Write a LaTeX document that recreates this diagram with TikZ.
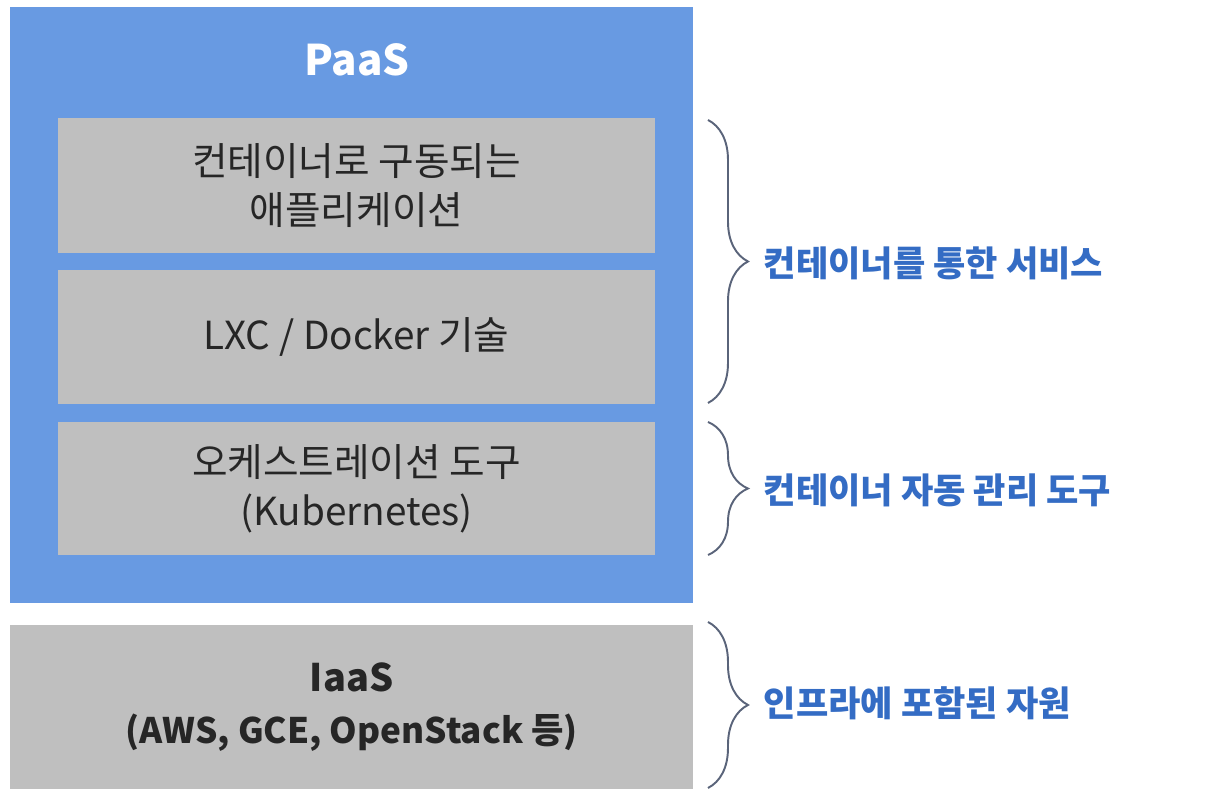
\documentclass[tikz,border=0pt]{standalone}
\usepackage{fontspec}
\setmainfont{Noto Sans CJK KR}
\usetikzlibrary{decorations.pathreplacing}

\definecolor{paasblue}{RGB}{104,154,226}
\definecolor{layergray}{RGB}{191,191,191}
\definecolor{noteblue}{RGB}{52,108,196}
\definecolor{bracegray}{RGB}{90,100,122}

\begin{document}
\begin{tikzpicture}[
paas/.style={fill=paasblue, minimum width=6.83cm, minimum height=5.96cm, inner sep=0pt},
layer/.style={fill=layergray, minimum width=5.97cm, inner sep=0pt, align=center, text=black!85, font=\fontsize{11}{14}\selectfont},
note/.style={anchor=west, inner sep=0pt, text=noteblue, font=\fontsize{10}{12}\selectfont\bfseries},
brace/.style={decorate, decoration={brace, amplitude=0.4cm}, draw=bracegray, line width=0.55pt}]

\useasboundingbox (0,0) rectangle (12.08,8.00);

\node[paas] (P) at (3.515,4.95) {};

\node[text=white, font=\fontsize{12}{14}\selectfont\bfseries] (Ptitle) at (3.57,7.40) {PaaS};

\node[layer, minimum height=1.35cm] (A) at (3.565,6.145) {컨테이너로 구동되는\\애플리케이션};

\node[layer, minimum height=1.34cm] (B) at (3.565,4.63) {LXC / Docker 기술};

\node[layer, minimum height=1.33cm] (C) at (3.565,3.115) {오케스트레이션 도구\\(Kubernetes)};

\node[layer, minimum width=6.83cm, minimum height=1.64cm, font=\fontsize{10}{14.8}\selectfont\bfseries] (I) at (3.515,0.93) {{\fontsize{10.8}{14.8}\selectfont IaaS}\\(AWS, GCE, OpenStack 등)};

\coordinate (b1t) at (7.08,6.80);
\coordinate (b1b) at (7.08,3.97);
\coordinate (b2t) at (7.08,3.78);
\coordinate (b2b) at (7.08,2.45);
\coordinate (b3t) at (7.08,1.78);
\coordinate (b3b) at (7.08,0.12);


\draw[brace] (b1t) -- (b1b);

\draw[brace] (b2t) -- (b2b);

\draw[brace] (b3t) -- (b3b);

\node[note] (N1) at (7.63,5.37) {컨테이너를 통한 서비스};

\node[note] (N2) at (7.63,3.10) {컨테이너 자동 관리 도구};

\node[note] (N3) at (7.63,0.97) {인프라에 포함된 자원};

\end{tikzpicture}
\end{document}
